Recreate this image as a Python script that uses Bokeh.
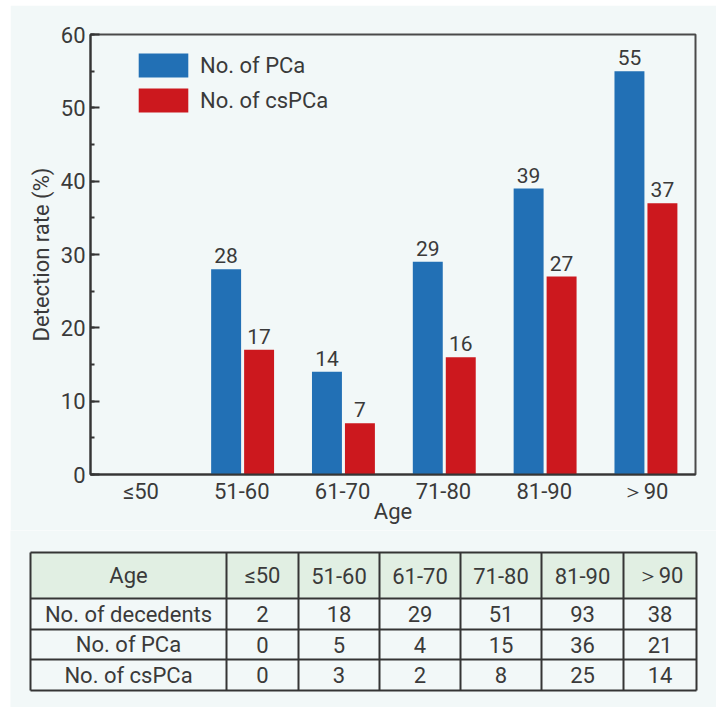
from bokeh.plotting import figure
from bokeh.models import ColumnDataSource, Range1d, FactorRange, SingleIntervalTicker
from bokeh.transform import dodge
from bokeh.layouts import column
from bokeh.embed import file_html
from bokeh.resources import INLINE
from bokeh.core.properties import value

# ---------------- data ----------------
ages = ["≤50", "51-60", "61-70", "71-80", "81-90", "＞90"]
pca_rate = [0, 28, 14, 29, 39, 55]
cspca_rate = [0, 17, 7, 16, 27, 37]

header_label = "Age"
row_labels = ["No. of decedents", "No. of PCa", "No. of csPCa"]
decedents = [2, 18, 29, 51, 93, 38]
pca_count = [0, 5, 4, 15, 36, 21]
cspca_count = [0, 3, 2, 8, 25, 14]

# ---------------- styles ----------------
FONT = "Roboto"
TXT = "#3a3a3a"
BG = "#f2f8f8"
BLUE = "#2270b5"
RED = "#cc181e"
HEAD = "#e1efe3"
LINE = "#353535"

src = ColumnDataSource(dict(
    age=ages,
    pca=pca_rate,
    cspca=cspca_rate,
    pca_lbl=[str(v) if v else "" for v in pca_rate],
    cspca_lbl=[str(v) if v else "" for v in cspca_rate],
))

p = figure(width=706, height=525, x_range=FactorRange(*ages), y_range=Range1d(0, 60),
           output_backend="svg", toolbar_location=None,
           min_border_left=80, min_border_right=21, min_border_top=29, min_border_bottom=56)
p.background_fill_color = BG
p.border_fill_color = BG
p.outline_line_color = "#4a4a4a"
p.outline_line_width = 2
p.grid.visible = False

OFF_B, OFF_R, W = -0.155, 0.172, 0.297
p.vbar(x=dodge("age", OFF_B, range=p.x_range), top="pca", width=W, source=src,
       fill_color=BLUE, line_color=None, legend_label="No. of PCa")
p.vbar(x=dodge("age", OFF_R, range=p.x_range), top="cspca", width=W, source=src,
       fill_color=RED, line_color=None, legend_label="No. of csPCa")

for off, col, lbl in [(OFF_B, "pca", "pca_lbl"), (OFF_R, "cspca", "cspca_lbl")]:
    p.text(x=dodge("age", off, range=p.x_range), y=col, text=lbl, source=src,
           text_align="center", text_baseline="bottom", y_offset=-6,
           text_font=value(FONT), text_font_size="21px", text_color=TXT)

# y axis
ya = p.yaxis[0]
ya.ticker = SingleIntervalTicker(interval=10, num_minor_ticks=2)
ya.axis_label = "Detection rate (%)"
ya.axis_label_text_font = FONT
ya.axis_label_text_font_style = "normal"
ya.axis_label_text_font_size = "22px"
ya.axis_label_text_color = TXT
ya.axis_label_standoff = 4
ya.major_label_text_font = FONT
ya.major_label_text_font_size = "22px"
ya.major_label_text_color = TXT
ya.major_label_standoff = 5
ya.axis_line_color = LINE
ya.axis_line_width = 2
ya.major_tick_in = 9
ya.major_tick_out = 0
ya.minor_tick_in = 4
ya.minor_tick_out = 0
ya.major_tick_line_color = LINE
ya.major_tick_line_width = 2
ya.minor_tick_line_color = LINE
ya.minor_tick_line_width = 2

# x axis
xa = p.xaxis[0]
xa.axis_label = "Age"
xa.axis_label_text_font = FONT
xa.axis_label_text_font_style = "normal"
xa.axis_label_text_font_size = "22px"
xa.axis_label_text_color = TXT
xa.axis_label_standoff = -8
xa.major_label_text_font = FONT
xa.major_label_text_font_size = "22px"
xa.major_label_text_color = TXT
xa.major_label_standoff = 4
xa.axis_line_color = LINE
xa.axis_line_width = 2
xa.major_tick_in = 0
xa.major_tick_out = 0

leg = p.legend[0]
leg.location = (42, 440 - 16 - 65)
leg.padding = 0
leg.margin = 0
leg.spacing = 5
leg.glyph_width = 62
leg.glyph_height = 30
leg.label_height = 30
leg.label_standoff = 6
leg.label_text_font = FONT
leg.label_text_font_size = "22px"
leg.label_text_color = TXT
leg.border_line_color = None
leg.background_fill_alpha = 0

# ---------------- table ----------------
col_widths = [196, 72, 81, 81, 81, 82, 73]
row_heights = [46, 31, 30, 31]
TX0, TY0 = 20, 22

t = figure(width=706, height=177, x_range=Range1d(0, 706), y_range=Range1d(177, 0),
           output_backend="svg", toolbar_location=None,
           x_axis_location=None, y_axis_location=None, min_border=0)
t.background_fill_color = BG
t.border_fill_color = BG
t.outline_line_color = None
t.grid.visible = False

xs = [TX0]
for w in col_widths:
    xs.append(xs[-1] + w)
ys = [TY0]
for h in row_heights:
    ys.append(ys[-1] + h)

t.quad(left=[xs[0]], right=[xs[-1]], top=[ys[0]], bottom=[ys[1]], fill_color=HEAD, line_color=None)

t.segment(x0=[xs[0]] * len(ys), x1=[xs[-1]] * len(ys), y0=ys, y1=ys, line_color=LINE, line_width=2)
t.segment(x0=xs, x1=xs, y0=[ys[0]] * len(xs), y1=[ys[-1]] * len(xs), line_color=LINE, line_width=2)

rows = [[header_label] + ages,
        [row_labels[0]] + [str(v) for v in decedents],
        [row_labels[1]] + [str(v) for v in pca_count],
        [row_labels[2]] + [str(v) for v in cspca_count]]
cx, cy, ct = [], [], []
for r, rw in enumerate(rows):
    for c, txt in enumerate(rw):
        cx.append((xs[c] + xs[c + 1]) / 2)
        cy.append((ys[r] + ys[r + 1]) / 2)
        ct.append(txt)
t.text(x=cx, y=cy, text=ct, text_align="center", text_baseline="middle",
       text_font=value(FONT), text_font_size="22px", text_color=TXT)

top_part = column(p)
bottom_part = column(t)
layout = column(top_part, bottom_part, spacing=0)
layout.margin = (5, 0, 0, 10)
open("out.html", "w").write(file_html(layout, INLINE))
